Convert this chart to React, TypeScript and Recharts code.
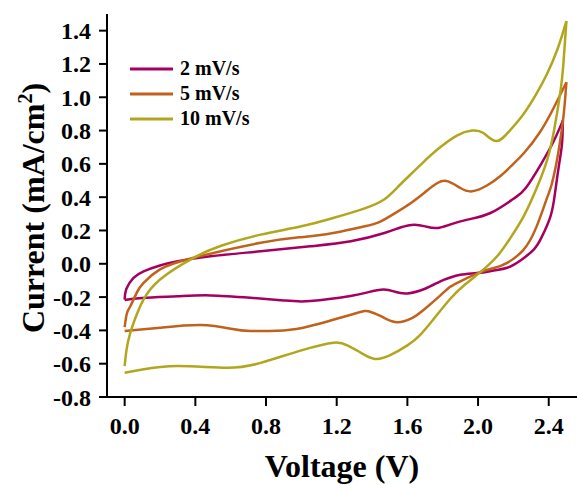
import React from "react";
import { LineChart, Line, XAxis, YAxis } from "recharts";

// cyclic voltammetry loops, [voltage, current] pairs
// forward sweep (0 -> 2.5 V) and reverse sweep (2.5 -> 0 V)
const scan2Fwd: [number, number][] = [
  [0, -0.215], [0.01, -0.15], [0.05, -0.085], [0.107, -0.045], [0.2, -0.01],
  [0.3, 0.015], [0.485, 0.045], [0.77, 0.075], [1.05, 0.105], [1.28, 0.135],
  [1.47, 0.185], [1.56, 0.218], [1.64, 0.235], [1.71, 0.222], [1.77, 0.215],
  [1.84, 0.235], [1.94, 0.265], [2.07, 0.305], [2.2, 0.39], [2.27, 0.455],
  [2.36, 0.605], [2.43, 0.74], [2.48, 0.86],
];
const scan2Rev: [number, number][] = [
  [2.48, 0.86], [2.475, 0.72], [2.457, 0.585], [2.435, 0.42], [2.41, 0.285],
  [2.36, 0.16], [2.315, 0.085], [2.24, 0.02], [2.165, -0.024], [2.09, -0.04],
  [2.013, -0.054], [1.9, -0.066], [1.84, -0.084], [1.787, -0.105], [1.7, -0.15],
  [1.6, -0.178], [1.53, -0.168], [1.466, -0.154], [1.38, -0.17], [1.278, -0.194],
  [1.05, -0.224], [0.9, -0.22], [0.712, -0.204], [0.485, -0.19], [0.3, -0.195],
  [0.1, -0.205], [0, -0.218],
];

const scan5Fwd: [number, number][] = [
  [0, -0.38], [0.012, -0.3], [0.032, -0.255], [0.07, -0.17], [0.107, -0.114],
  [0.2, -0.034], [0.39, 0.036], [0.77, 0.126], [1.0, 0.16], [1.18, 0.185],
  [1.36, 0.225], [1.45, 0.255], [1.54, 0.31], [1.62, 0.365], [1.7, 0.43],
  [1.77, 0.485], [1.83, 0.495], [1.9, 0.455], [1.966, 0.435], [2.05, 0.47],
  [2.13, 0.53], [2.2, 0.6], [2.26, 0.665], [2.35, 0.79], [2.43, 0.94], [2.5, 1.09],
];
const scan5Rev: [number, number][] = [
  [2.5, 1.09], [2.485, 0.9], [2.462, 0.72], [2.44, 0.585], [2.415, 0.47],
  [2.387, 0.385], [2.33, 0.22], [2.258, 0.085], [2.165, 0.006], [2.09, -0.025],
  [2.013, -0.05], [1.9, -0.105], [1.84, -0.14], [1.787, -0.19], [1.7, -0.27],
  [1.62, -0.33], [1.53, -0.35], [1.45, -0.315], [1.38, -0.285], [1.3, -0.3],
  [1.05, -0.374], [0.9, -0.4], [0.712, -0.404], [0.6, -0.39], [0.43, -0.368],
  [0.2, -0.384], [0, -0.404],
];

const scan10Fwd: [number, number][] = [
  [0, -0.614], [0.01, -0.52], [0.032, -0.414], [0.07, -0.3], [0.107, -0.214],
  [0.2, -0.094], [0.39, 0.036], [0.55, 0.11], [0.77, 0.175], [1.0, 0.225],
  [1.18, 0.275], [1.35, 0.33], [1.466, 0.385], [1.54, 0.455], [1.617, 0.535],
  [1.7, 0.62], [1.768, 0.685], [1.88, 0.77], [1.966, 0.8], [2.03, 0.785],
  [2.104, 0.737], [2.18, 0.8], [2.258, 0.9], [2.33, 1.02], [2.39, 1.14],
  [2.45, 1.29], [2.5, 1.457],
];
const scan10Rev: [number, number][] = [
  [2.5, 1.457], [2.483, 1.2], [2.467, 1.04], [2.43, 0.8], [2.39, 0.62],
  [2.33, 0.45], [2.258, 0.285], [2.18, 0.15], [2.108, 0.045], [2.013, -0.05],
  [1.92, -0.13], [1.843, -0.21], [1.75, -0.33], [1.67, -0.43], [1.6, -0.49],
  [1.5, -0.55], [1.41, -0.57], [1.33, -0.53], [1.26, -0.49], [1.183, -0.474],
  [1.0, -0.52], [0.77, -0.595], [0.58, -0.624], [0.297, -0.614], [0.1, -0.635],
  [0, -0.654],
];

const xTicks = [0, 0.4, 0.8, 1.2, 1.6, 2.0, 2.4];
const yTicks = [-0.8, -0.6, -0.4, -0.2, 0, 0.2, 0.4, 0.6, 0.8, 1.0, 1.2, 1.4];

const series = [
  { name: "2 mV/s", color: "#A5005F", fwd: scan2Fwd, rev: scan2Rev },
  { name: "5 mV/s", color: "#C0621C", fwd: scan5Fwd, rev: scan5Rev },
  { name: "10 mV/s", color: "#B2A61E", fwd: scan10Fwd, rev: scan10Rev },
];

const toPts = (pairs: [number, number][]) => pairs.map(([v, i]) => ({ v, i }));

const font = '"Liberation Serif", "Times New Roman", serif';
const tickStyle = { fontSize: 24, fontWeight: 700, fill: "#000", fontFamily: font };

export default function App() {
  return (
    <div style={{ position: "absolute", left: 0, top: 0, width: 579, height: 485, background: "#fff" }}>
      <LineChart width={579} height={485} margin={{ top: 14, right: 2, left: 0, bottom: 0 }}>
        <XAxis
          dataKey="v"
          type="number"
          domain={[-0.1, 2.56]}
          ticks={xTicks}
          interval={0}
          allowDataOverflow
          tickFormatter={(v: number) => v.toFixed(1)}
          height={88}
          tickSize={9}
          tickMargin={11}
          tick={tickStyle}
          axisLine={{ stroke: "#000", strokeWidth: 2 }}
          tickLine={{ stroke: "#000", strokeWidth: 2 }}
          label={{
            value: "Voltage (V)",
            position: "insideBottom",
            offset: 8,
            style: { fontSize: 32, fontWeight: 700, fill: "#000", fontFamily: font },
          }}
        />
        <XAxis
          xAxisId="top"
          orientation="top"
          type="number"
          dataKey="v"
          domain={[-0.1, 2.56]}
          height={0}
          tick={false}
          tickLine={false}
          axisLine={{ stroke: "#000", strokeWidth: 2 }}
        />
        <YAxis
          type="number"
          domain={[-0.8, 1.5]}
          ticks={yTicks}
          interval={0}
          allowDataOverflow
          tickFormatter={(v: number) => v.toFixed(1)}
          width={107}
          tickSize={8}
          tickMargin={8}
          tick={tickStyle}
          axisLine={{ stroke: "#000", strokeWidth: 2 }}
          tickLine={{ stroke: "#000", strokeWidth: 2 }}
          label={() => (
            <text
              x={44}
              y={208}
              transform="rotate(-90 44 208)"
              textAnchor="middle"
              style={{ fontSize: 32, fontWeight: 700, fill: "#000", fontFamily: font }}
            >
              Current (mA/cm
              <tspan fontSize={20} dy={-12}>2</tspan>
              <tspan dy={12}>)</tspan>
            </text>
          )}
        />
        <YAxis
          yAxisId="right"
          orientation="right"
          type="number"
          domain={[-0.8, 1.5]}
          width={0}
          tick={false}
          tickLine={false}
          axisLine={{ stroke: "#000", strokeWidth: 2 }}
        />
        {series.flatMap((s) => [
          <Line
            key={s.name + "-fwd"}
            data={toPts(s.fwd)}
            dataKey="i"
            type="natural"
            stroke={s.color}
            strokeWidth={2.5}
            dot={false}
            activeDot={false}
            isAnimationActive={false}
          />,
          <Line
            key={s.name + "-rev"}
            data={toPts(s.rev)}
            dataKey="i"
            type="natural"
            stroke={s.color}
            strokeWidth={2.5}
            dot={false}
            activeDot={false}
            isAnimationActive={false}
          />,
        ])}
      </LineChart>
      <div style={{ position: "absolute", left: 130, top: 56, fontFamily: font, fontWeight: 700, fontSize: 20 }}>
        {series.map((s) => (
          <div key={s.name} style={{ display: "flex", alignItems: "center", height: 25 }}>
            <svg width={43} height={4} style={{ marginRight: 7 }}>
              <line x1={0} y1={2} x2={43} y2={2} stroke={s.color} strokeWidth={3} />
            </svg>
            <span>{s.name}</span>
          </div>
        ))}
      </div>
    </div>
  );
}
